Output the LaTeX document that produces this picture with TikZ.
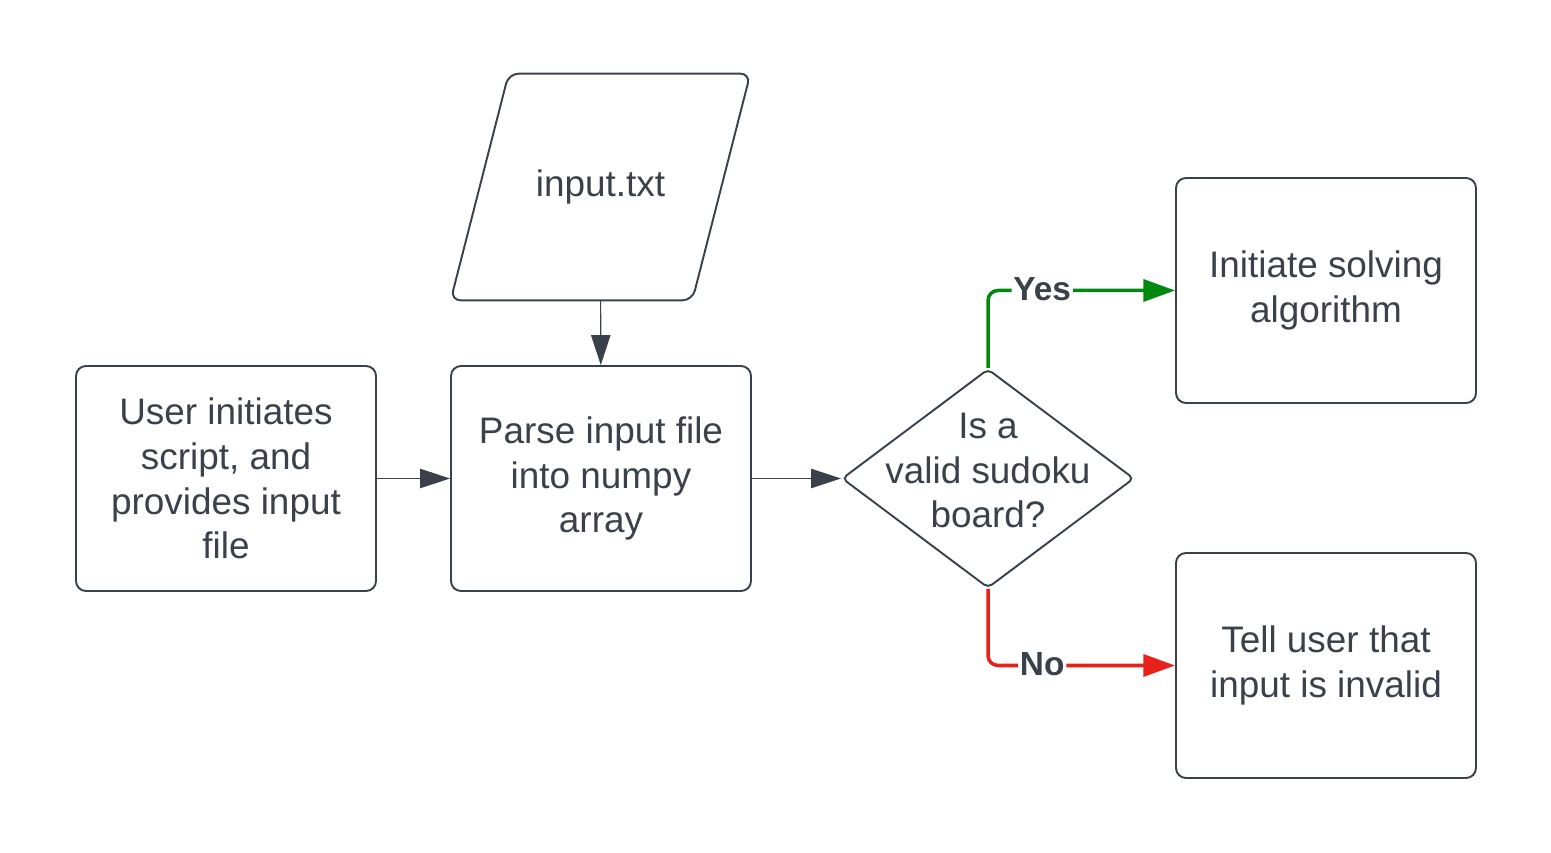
\documentclass[tikz,border=0pt]{standalone}
\usepackage{fontspec}
\setmainfont{Liberation Sans}
\definecolor{slate}{HTML}{3A414A}
\definecolor{yesgreen}{HTML}{00880F}
\definecolor{nored}{HTML}{E8221A}
\usetikzlibrary{arrows.meta, shapes.geometric, calc, positioning}
\newcommand{\branch}[4]
{
	\draw[branchline, #1] (#2) |- node[pos=0.645, branchlabel]{#4} (#3)
}

\begin{document}
\begin{tikzpicture}[
every node/.append style={text=slate},
step box/.style={draw=slate, line width=1.1pt, rounded corners=0.2cm,
	minimum width=6cm, minimum height=4.5cm, align=center,
	font=\fontsize{21}{25.5}\selectfont},
decision/.style={draw=slate, line width=1.1pt, shape=diamond, rounded corners=0.1cm,
	minimum width=5.84cm, minimum height=4.38cm, inner sep=0pt},
flow/.style={draw=slate, line width=0.6pt, -{Triangle[length=17pt, width=11pt]}},
branchline/.style={line width=2pt, rounded corners=0.2cm, -{Triangle[length=18pt, width=12.5pt]}},
branchlabel/.style={fill=white, inner sep=1pt, yshift=1pt, font=\fontsize{19}{22}\bfseries\selectfont}]

\useasboundingbox (0,0) rectangle (31.02,17.06);

\node[step box] at (4.52, 7.49)  (user){User initiates\\script, and\\provides input\\file};
\node[step box] at (12.02, 7.49) (parse){Parse input file\\into numpy\\array};

% data input
\node[minimum width=4.82cm, minimum height=4.52cm, font=\fontsize{21}{25.5}\selectfont] at (12.01, 13.32) (input){input.txt};
\draw[slate, line width=1.1pt, rounded corners=0.2cm]
	($(input.south west)-(0.58,0)$) -- ($(input.north west)+(0.58,0)$) --
	($(input.north east)+(0.58,0)$) -- ($(input.south east)-(0.58,0)$) -- cycle;

\node[decision, label={[align=center, font=\fontsize{21}{25.5}\selectfont, text=slate, yshift=0.16cm]center:Is a\\valid sudoku\\board?}] at (19.76, 7.49) (valid){};

\node[step box] at (26.52, 11.25) (solve){Initiate solving\\algorithm};
\node[step box] at (26.52, 3.75)  (invalid){Tell user that\\input is invalid};

\draw[flow] (user) -- (parse);
\draw[flow] (input) -- (parse);
\draw[flow] (parse) -- (valid);
\branch{yesgreen}{valid.north}{solve.west}{Yes};
\branch{nored}{valid.south}{invalid.west}{No};
\end{tikzpicture}
\end{document}
